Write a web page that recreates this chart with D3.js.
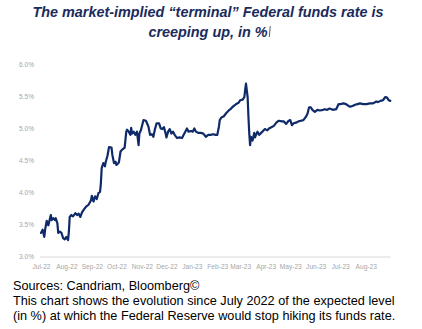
<!DOCTYPE html>
<html><head><meta charset="utf-8">
<script src="https://cdn.jsdelivr.net/npm/d3@7"></script>
<style>
html,body{margin:0;padding:0;background:#fff;}
svg{display:block;}
</style></head>
<body>
<svg id="chart" width="422" height="329"></svg>
<script>
const titleLines = ["The market-implied \u201cterminal\u201d Federal funds rate is", "creeping up, in %"];
const footerLines = ["Sources: Candriam, Bloomberg\u00a9",
  "This chart shows the evolution since July 2022 of the expected level",
  "(in %) at which the Federal Reserve would stop hiking its funds rate."];
const yTicks = [3.0, 3.5, 4.0, 4.5, 5.0, 5.5, 6.0];
const xTickLabels = ["Jul-22","Aug-22","Sep-22","Oct-22","Nov-22","Dec-22","Jan-23","Feb-23","Mar-23","Apr-23","May-23","Jun-23","Jul-23","Aug-23"];
const xTickDates = ["2022-07-01","2022-08-01","2022-09-01","2022-10-01","2022-11-01","2022-12-01","2023-01-01","2023-02-01","2023-03-01","2023-04-01","2023-05-01","2023-06-01","2023-07-01","2023-08-01"];
const dates = [
"2022-07-01","2022-07-03","2022-07-05","2022-07-06","2022-07-08","2022-07-10","2022-07-12","2022-07-13","2022-07-14","2022-07-16",
"2022-07-18","2022-07-19","2022-07-21","2022-07-22","2022-07-24","2022-07-26","2022-07-28","2022-07-30","2022-08-01","2022-08-03",
"2022-08-04","2022-08-05","2022-08-07","2022-08-09","2022-08-12","2022-08-14","2022-08-16","2022-08-18","2022-08-20","2022-08-22",
"2022-08-25","2022-08-28","2022-08-31","2022-09-01","2022-09-03","2022-09-05","2022-09-07","2022-09-09","2022-09-11","2022-09-12",
"2022-09-13","2022-09-15","2022-09-17","2022-09-18","2022-09-20","2022-09-22","2022-09-25","2022-09-26","2022-09-28","2022-09-30",
"2022-10-01","2022-10-04","2022-10-06","2022-10-08","2022-10-11","2022-10-13","2022-10-14","2022-10-16","2022-10-18","2022-10-19",
"2022-10-20","2022-10-22","2022-10-24","2022-10-26","2022-10-28","2022-10-29","2022-10-31","2022-11-03","2022-11-06","2022-11-09",
"2022-11-11","2022-11-13","2022-11-15","2022-11-17","2022-11-19","2022-11-22","2022-11-24","2022-11-26","2022-11-28","2022-11-30",
"2022-12-01","2022-12-03","2022-12-05","2022-12-07","2022-12-09","2022-12-11","2022-12-14","2022-12-17","2022-12-20","2022-12-22",
"2022-12-24","2022-12-26","2022-12-28","2022-12-31","2023-01-02","2023-01-04","2023-01-06","2023-01-09","2023-01-12","2023-01-15",
"2023-01-18","2023-01-21","2023-01-24","2023-01-27","2023-01-30","2023-02-01","2023-02-03","2023-02-04","2023-02-06","2023-02-09",
"2023-02-12","2023-02-15","2023-02-17","2023-02-20","2023-02-24","2023-02-27","2023-03-01","2023-03-04","2023-03-06","2023-03-07",
"2023-03-08","2023-03-10","2023-03-11","2023-03-12","2023-03-13","2023-03-14","2023-03-16","2023-03-18","2023-03-19","2023-03-22",
"2023-03-24","2023-03-28","2023-03-31","2023-04-03","2023-04-05","2023-04-08","2023-04-11","2023-04-14","2023-04-17","2023-04-21",
"2023-04-23","2023-04-26","2023-04-29","2023-05-01","2023-05-03","2023-05-05","2023-05-08","2023-05-11","2023-05-14","2023-05-17",
"2023-05-20","2023-05-22","2023-05-24","2023-05-26","2023-05-28","2023-05-31","2023-06-03","2023-06-06","2023-06-10","2023-06-12",
"2023-06-15","2023-06-18","2023-06-22","2023-06-26","2023-06-29","2023-07-01","2023-07-05","2023-07-08","2023-07-11","2023-07-13",
"2023-07-16","2023-07-19","2023-07-22","2023-07-25","2023-07-29","2023-08-02","2023-08-06","2023-08-10","2023-08-14","2023-08-16",
"2023-08-19","2023-08-22","2023-08-25","2023-08-27","2023-08-29","2023-08-31"];
const rates = [
3.37,3.42,3.31,3.42,3.56,3.49,3.60,3.65,3.57,3.60,
3.57,3.60,3.52,3.37,3.39,3.37,3.29,3.27,3.31,3.26,
3.39,3.62,3.65,3.63,3.68,3.65,3.67,3.62,3.69,3.73,
3.78,3.81,3.88,3.95,3.86,3.94,3.90,3.99,4.01,4.14,
4.38,4.46,4.41,4.48,4.57,4.71,4.70,4.59,4.46,4.48,
4.43,4.47,4.64,4.67,4.70,4.95,4.98,4.95,4.90,5.01,
4.92,4.95,4.90,4.95,4.74,4.92,4.98,5.13,5.12,5.03,
4.90,4.91,4.87,4.99,5.08,5.08,5.00,4.99,5.02,4.92,
4.86,4.95,4.99,4.92,4.95,4.90,4.85,4.86,4.85,4.90,
4.95,5.00,4.95,4.96,4.95,5.00,4.95,4.93,4.93,4.92,
4.87,4.90,4.90,4.91,4.90,4.90,5.03,5.13,5.17,5.19,
5.24,5.28,5.30,5.34,5.38,5.40,5.44,5.45,5.49,5.60,
5.70,5.49,5.18,4.92,4.74,4.87,4.81,4.93,4.86,4.95,
4.90,4.95,4.99,4.97,5.00,5.02,5.04,5.09,5.12,5.11,
5.11,5.07,5.12,5.13,5.05,5.08,5.09,5.11,5.12,5.13,
5.18,5.23,5.33,5.33,5.29,5.26,5.29,5.28,5.29,5.30,
5.29,5.31,5.29,5.30,5.38,5.38,5.39,5.38,5.35,5.34,
5.35,5.37,5.38,5.39,5.38,5.38,5.39,5.39,5.42,5.41,
5.43,5.44,5.49,5.48,5.44,5.43];

const parse = d3.utcParse("%Y-%m-%d");
const data = dates.map((d,i)=>({date: parse(d), v: rates[i]}));
const svg = d3.select("#chart");

const x = d3.scaleUtc().domain([parse("2022-07-01"), parse("2023-08-31")]).range([41, 390.3]);
const y = d3.scaleLinear().domain([3, 6]).range([256.7, 64.3]);

const labelFont = "'Liberation Sans', Arial, sans-serif";

// y axis labels
const yAxis = d3.axisLeft(y).tickValues(yTicks).tickSize(0).tickPadding(0)
  .tickFormat(d => d.toFixed(1) + "%");
const gy = svg.append("g").attr("transform", "translate(34,0)").call(yAxis);
gy.select(".domain").remove();
gy.selectAll("text").attr("fill", "#a6a6a6").style("font-family", labelFont).style("font-size", "6.6px");

// x axis
const xAxis = d3.axisBottom(x).tickValues(xTickDates.map(parse)).tickSize(0).tickPadding(7)
  .tickFormat((d,i) => xTickLabels[i]);
const gx = svg.append("g").attr("transform", "translate(0,257)").call(xAxis);
gx.select(".domain").attr("stroke", "#d9d9d9").attr("stroke-width", 1.2).attr("d", `M40,0H390.5`);
gx.selectAll("text").attr("fill", "#a6a6a6").style("font-family", labelFont).style("font-size", "6.6px");

// line
const line = d3.line().x(d => x(d.date)).y(d => y(d.v)).curve(d3.curveLinear);
svg.append("path").datum(data).attr("d", line)
  .attr("fill", "none").attr("stroke", "#0f2a68").attr("stroke-width", 2.2)
  .attr("stroke-linejoin", "round").attr("stroke-linecap", "round");

// title
const title = svg.append("text").attr("text-anchor", "middle")
  .style("font-family", labelFont).style("font-weight", "bold").style("font-style", "italic")
  .style("font-size", "14.4px").attr("fill", "#1a2b5c");
title.selectAll("tspan").data(titleLines).join("tspan")
  .attr("x", 208).attr("y", (d,i) => 17 + i*19.5).text(d => d);
// caret mark after title
const t2 = title.selectAll("tspan").nodes()[1];
const bb = t2.getBBox();
svg.append("line").attr("x1", bb.x + bb.width + 2.5).attr("x2", bb.x + bb.width + 1.5)
  .attr("y1", 26).attr("y2", 37).attr("stroke", "#333").attr("stroke-width", 0.8);

// footer
const foot = svg.append("text").style("font-family", labelFont).style("font-size", "12.7px").attr("fill", "#000");
foot.selectAll("tspan").data(footerLines).join("tspan")
  .attr("x", 13).attr("y", (d,i) => 289.5 + i*15).text(d => d);
</script>
</body></html>
